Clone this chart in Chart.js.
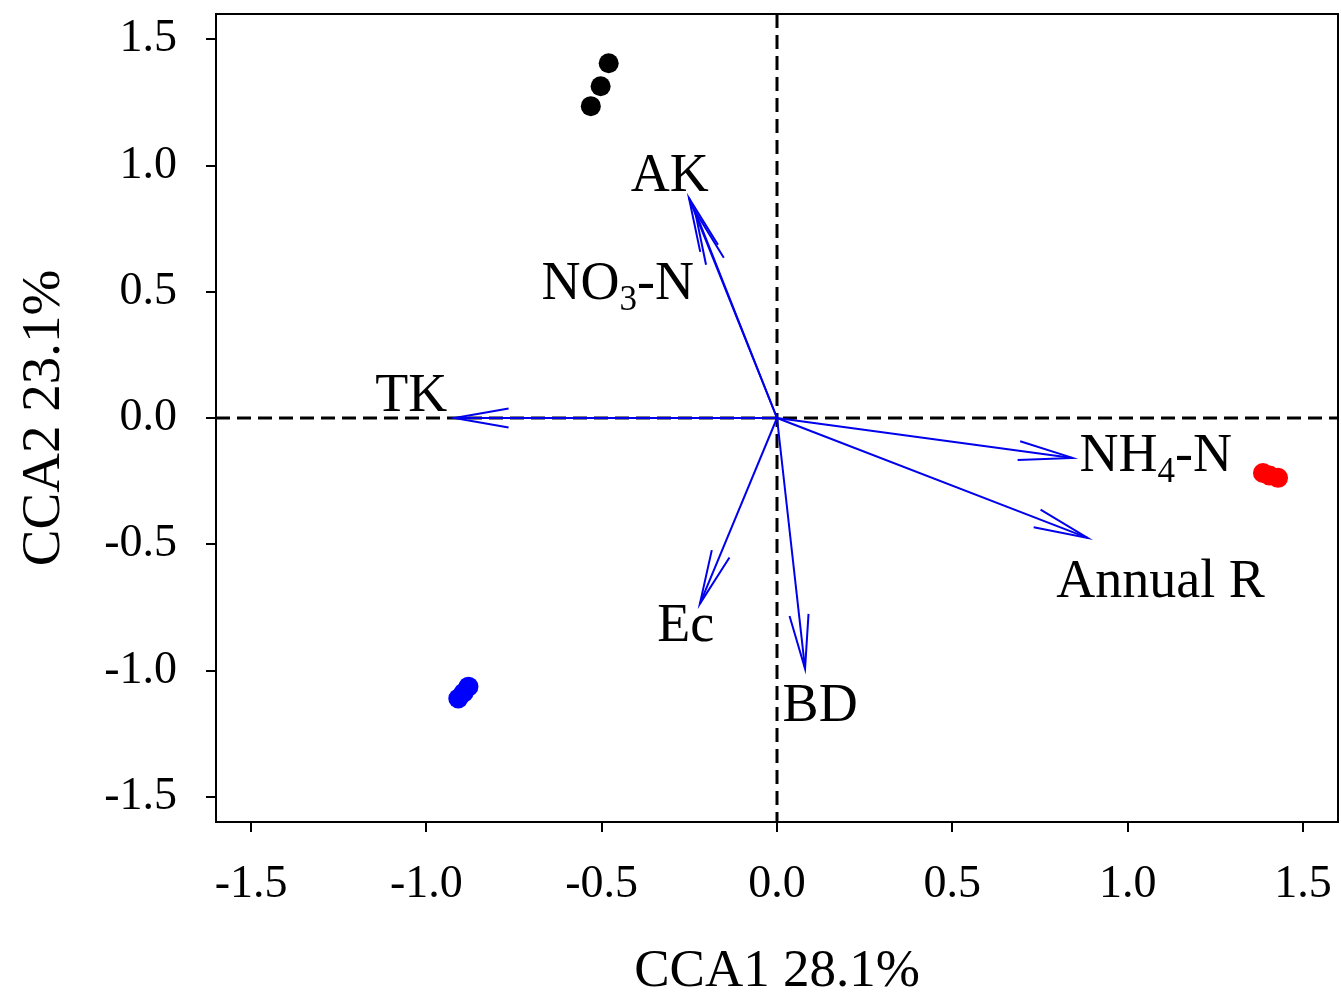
<!DOCTYPE html>
<html>
<head>
<meta charset="utf-8">
<script src="https://cdn.jsdelivr.net/npm/chart.js@4/dist/chart.umd.min.js"></script>
<style>
  html, body { margin: 0; padding: 0; background: #fff; }
  #wrap { width: 1341px; height: 995px; }
</style>
</head>
<body>
<div id="wrap"><canvas id="c" width="1341" height="995"></canvas></div>
<script>
// ---- Data ----
const xTickValues = [-1.5, -1.0, -0.5, 0.0, 0.5, 1.0, 1.5];
const yTickValues = [-1.5, -1.0, -0.5, 0.0, 0.5, 1.0, 1.5];
const xTitle = 'CCA1 28.1%';
const yTitle = 'CCA2 23.1%';

// sample scores
const blackX = [-0.480, -0.503, -0.531];
const blackY = [1.405, 1.314, 1.235];
const redX = [1.386, 1.405, 1.429];
const redY = [-0.218, -0.228, -0.237];
const blueX = [-0.880, -0.894, -0.909];
const blueY = [-1.064, -1.088, -1.111];

// environmental vectors (names use _ for subscript)
const envNames = ['AK', 'NO_3-N', 'TK', 'NH_4-N', 'Annual R', 'Ec', 'BD'];
const envX = [-0.251, -0.234, -0.920, 0.843, 0.886, -0.220, 0.080];
const envY = [0.871, 0.820, 0.000, -0.158, -0.475, -0.736, -0.993];
const envLabelX = [-0.306, -0.454, -1.043, 1.080, 1.094, -0.260, 0.123];
const envLabelY = [0.970, 0.542, 0.099, -0.139, -0.637, -0.811, -1.128];

// ---- Chart ----
const SERIF = '"Liberation Serif", "Times New Roman", serif';
const BLUE = 'rgb(0,0,235)';

function pts(xs, ys) { return xs.map((x, i) => ({ x: x, y: ys[i] })); }

const datasets = [];
envNames.forEach((n, i) => {
  datasets.push({
    type: 'line', label: n, isArrow: true,
    data: [{ x: 0, y: 0 }, { x: envX[i], y: envY[i] }],
    borderColor: BLUE, borderWidth: 2, pointRadius: 0, fill: false, tension: 0
  });
});
[[blackX, blackY, '#000000'], [redX, redY, '#ff0000'], [blueX, blueY, '#0000ff']].forEach(g => {
  datasets.push({
    type: 'scatter', label: 'samples', data: pts(g[0], g[1]),
    backgroundColor: g[2], borderColor: g[2], borderWidth: 0, pointRadius: 10
  });
});

const decor = {
  id: 'decor',
  beforeDatasetsDraw(chart) {
    const { ctx, chartArea: a, scales: { x, y } } = chart;
    ctx.save();
    ctx.strokeStyle = '#000';
    ctx.lineWidth = 3;
    ctx.setLineDash([14, 7]);
    const x0 = x.getPixelForValue(0), y0 = y.getPixelForValue(0);
    ctx.beginPath(); ctx.moveTo(x0, a.top); ctx.lineTo(x0, a.bottom); ctx.stroke();
    ctx.beginPath(); ctx.moveTo(a.left, y0); ctx.lineTo(a.right, y0); ctx.stroke();
    ctx.restore();
  },
  afterDatasetsDraw(chart) {
    const { ctx, chartArea: a, scales: { x, y } } = chart;
    ctx.save();
    // arrowheads
    chart.data.datasets.forEach((ds, di) => {
      if (!ds.isArrow) return;
      const meta = chart.getDatasetMeta(di);
      const p0 = meta.data[0], p1 = meta.data[1];
      const ang = Math.atan2(p1.y - p0.y, p1.x - p0.x);
      const L = 55, h = 10 * Math.PI / 180;
      ctx.strokeStyle = BLUE; ctx.lineWidth = 2; ctx.setLineDash([]);
      ctx.beginPath();
      ctx.moveTo(p1.x - L * Math.cos(ang - h), p1.y - L * Math.sin(ang - h));
      ctx.lineTo(p1.x, p1.y);
      ctx.lineTo(p1.x - L * Math.cos(ang + h), p1.y - L * Math.sin(ang + h));
      ctx.stroke();
    });
    // labels
    const big = 54, small = 35;
    envNames.forEach((n, i) => {
      const parts = [];
      const re = /_(\d)/g; let last = 0, m;
      while ((m = re.exec(n)) !== null) {
        parts.push({ t: n.slice(last, m.index), sub: false });
        parts.push({ t: m[1], sub: true });
        last = m.index + m[0].length;
      }
      parts.push({ t: n.slice(last), sub: false });
      let w = 0;
      parts.forEach(p => { ctx.font = (p.sub ? small : big) + 'px ' + SERIF; p.w = ctx.measureText(p.t).width; w += p.w; });
      let cx = x.getPixelForValue(envLabelX[i]) - w / 2;
      const cy = y.getPixelForValue(envLabelY[i]);
      ctx.fillStyle = '#000'; ctx.textAlign = 'left'; ctx.textBaseline = 'alphabetic';
      parts.forEach(p => {
        ctx.font = (p.sub ? small : big) + 'px ' + SERIF;
        ctx.fillText(p.t, cx, cy + 18 + (p.sub ? 11 : 0));
        cx += p.w;
      });
    });
    // box
    ctx.strokeStyle = '#000'; ctx.lineWidth = 2; ctx.setLineDash([]);
    ctx.strokeRect(a.left, a.top, a.right - a.left, a.bottom - a.top);
    ctx.restore();
  }
};

function fmt(v) {
  return (v < 0 ? '-' : '') + Math.abs(v).toFixed(1);
}

new Chart(document.getElementById('c'), {
  data: { datasets: datasets },
  options: {
    responsive: false,
    animation: false,
    devicePixelRatio: 1,
    layout: { autoPadding: false, padding: { top: 14, right: 3, left: 0, bottom: 0 } },
    plugins: { legend: { display: false }, tooltip: { enabled: false } },
    scales: {
      x: {
        type: 'linear', min: -1.6, max: 1.6,
        afterFit(s) { s.height = 173; s.paddingLeft = 0; s.paddingRight = 0; },
        afterBuildTicks(s) { s.ticks = xTickValues.map(v => ({ value: v })); },
        ticks: {
          font: { family: SERIF, size: 46 }, color: '#000', padding: 25,
          callback: v => fmt(v), maxRotation: 0, autoSkip: false
        },
        grid: { drawOnChartArea: false, drawTicks: true, tickLength: 10, color: '#000', lineWidth: 2 },
        border: { display: true, color: '#000', width: 2 },
        title: { display: true, text: xTitle, color: '#000', font: { family: SERIF, size: 53, lineHeight: 1.0 }, padding: { top: 0, bottom: -4 } }
      },
      y: {
        type: 'linear', min: -1.6, max: 1.6,
        afterFit(s) { s.width = 216; s.paddingTop = 0; s.paddingBottom = 0; },
        afterBuildTicks(s) { s.ticks = yTickValues.map(v => ({ value: v })); },
        ticks: {
          font: { family: SERIF, size: 46 }, color: '#000', padding: 29,
          callback: v => fmt(v), autoSkip: false
        },
        grid: { drawOnChartArea: false, drawTicks: true, tickLength: 10, color: '#000', lineWidth: 2 },
        border: { display: true, color: '#000', width: 2 },
        title: { display: true, text: yTitle, color: '#000', font: { family: SERIF, size: 55, lineHeight: 1.2 }, padding: { top: 12, bottom: 0 } }
      }
    }
  },
  plugins: [decor]
});
</script>
</body>
</html>
